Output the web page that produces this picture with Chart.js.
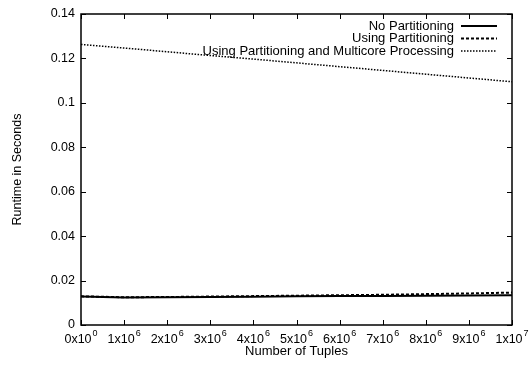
<!DOCTYPE html>
<html>
<head>
<meta charset="utf-8">
<script src="https://cdn.jsdelivr.net/npm/chart.js@4.4.1/dist/chart.umd.min.js"></script>
<style>
  html, body { margin: 0; padding: 0; background: #fff; }
  #wrap { width: 530px; height: 367px; }
</style>
</head>
<body>
<div id="wrap"><canvas id="myChart"></canvas></div>
<script>
Chart.defaults.font.family = "'Liberation Sans', 'Arial', 'Helvetica', sans-serif";
Chart.defaults.color = '#000';

var tupleCounts = [1, 1e6, 2e6, 3e6, 4e6, 5e6, 6e6, 7e6, 8e6, 9e6, 1e7];
var noPartitioning = [0.0128, 0.0124, 0.0125, 0.0126, 0.0127, 0.0129, 0.0130, 0.0131, 0.0132, 0.0133, 0.0134];
var usingPartitioning = [0.0129, 0.0125, 0.0126, 0.0128, 0.0130, 0.0132, 0.0134, 0.0136, 0.0139, 0.0142, 0.0146];
var multicoreProcessing = [0.1263, 0.1247, 0.1230, 0.1213, 0.1197, 0.1180, 0.1163, 0.1146, 0.1129, 0.1112, 0.1095];
var seriesNames = ['No Partitioning', 'Using Partitioning', 'Using Partitioning and Multicore Processing'];
// tick labels as mantissa x 10^exponent
var xTickBase = ['0x10', '1x10', '2x10', '3x10', '4x10', '5x10', '6x10', '7x10', '8x10', '9x10', '1x10'];
var xTickExp = ['0', '6', '6', '6', '6', '6', '6', '6', '6', '6', '7'];

var FONT = "'Liberation Sans', Arial, sans-serif";

function toPoints(values) {
    return values.map(function (v, i) { return { x: tupleCounts[i], y: v }; });
}

// gnuplot style: full frame, inward ticks on all sides, key at top right
var gnuplotFrame = {
    id: 'gnuplotFrame',
    afterDraw: function (chart) {
        var ctx = chart.ctx;
        var a = chart.chartArea;
        var xs = chart.scales.x, ys = chart.scales.y;
        var t = 5;
        ctx.save();
        ctx.strokeStyle = '#000';
        ctx.lineWidth = 1.5;
        ctx.strokeRect(a.left, a.top, a.right - a.left, a.bottom - a.top);
        ctx.lineWidth = 1;
        ctx.beginPath();
        xs.ticks.forEach(function (tk) {
            var px = Math.round(xs.getPixelForValue(tk.value)) + 0.5;
            ctx.moveTo(px, a.bottom); ctx.lineTo(px, a.bottom - t);
            ctx.moveTo(px, a.top); ctx.lineTo(px, a.top + t);
        });
        ys.ticks.forEach(function (tk) {
            var py = Math.round(ys.getPixelForValue(tk.value)) + 0.5;
            ctx.moveTo(a.left, py); ctx.lineTo(a.left + t, py);
            ctx.moveTo(a.right, py); ctx.lineTo(a.right - t, py);
        });
        ctx.stroke();

        // x tick labels with superscript exponent
        ctx.fillStyle = '#000';
        ctx.textBaseline = 'middle';
        ctx.textAlign = 'left';
        xs.ticks.forEach(function (tk, i) {
            var px = xs.getPixelForValue(tk.value);
            ctx.font = '12.5px ' + FONT;
            var wb = ctx.measureText(xTickBase[i]).width;
            ctx.font = '9px ' + FONT;
            var we = ctx.measureText(xTickExp[i]).width;
            var x0 = px - (wb + 1 + we) / 2;
            ctx.font = '12.5px ' + FONT;
            ctx.fillText(xTickBase[i], x0, a.bottom + 15);
            ctx.font = '9px ' + FONT;
            ctx.fillText(xTickExp[i], x0 + wb + 1, a.bottom + 9);
        });

        // key
        ctx.font = '13px ' + FONT;
        ctx.textAlign = 'right';
        chart.data.datasets.forEach(function (ds, i) {
            var y = a.top + 12 + i * 12.5;
            ctx.fillText(ds.label, a.right - 58, y);
            ctx.beginPath();
            ctx.lineWidth = ds.borderWidth;
            ctx.setLineDash(ds.borderDash || []);
            ctx.moveTo(a.right - 51, y);
            ctx.lineTo(a.right - 15, y);
            ctx.stroke();
        });
        ctx.restore();
    }
};

var ctx1 = document.getElementById('myChart').getContext('2d');
var myChart = new Chart(ctx1, {
    type: 'line',
    data: {
        datasets: [{
            label: seriesNames[0],
            data: toPoints(noPartitioning),
            borderColor: '#000',
            borderWidth: 2,
            pointRadius: 0
        }, {
            label: seriesNames[1],
            data: toPoints(usingPartitioning),
            borderColor: '#000',
            borderWidth: 2,
            borderDash: [3, 2],
            pointRadius: 0
        }, {
            label: seriesNames[2],
            data: toPoints(multicoreProcessing),
            borderColor: '#000',
            borderWidth: 1.5,
            borderDash: [1.5, 1.5],
            pointRadius: 0
        }]
    },
    plugins: [gnuplotFrame],
    options: {
        animation: false,
        responsive: true,
        maintainAspectRatio: false,
        layout: { padding: { top: 14, right: 18, left: 0, bottom: 0 } },
        plugins: {
            legend: { display: false },
            tooltip: { enabled: false }
        },
        scales: {
            x: {
                type: 'linear',
                min: 0,
                max: 1e7,
                afterFit: function (scale) { scale.height = 42; },
                ticks: {
                    stepSize: 1e6,
                    autoSkip: false,
                    display: false
                },
                grid: { display: false, drawTicks: false },
                border: { display: false },
                title: {
                    display: true,
                    text: 'Number of Tuples',
                    font: { size: 13 },
                    padding: { top: 0, bottom: 8 }
                }
            },
            y: {
                min: 0,
                max: 0.14,
                afterFit: function (scale) { scale.width = 81; },
                ticks: {
                    stepSize: 0.02,
                    padding: 6,
                    font: { size: 12.5 },
                    callback: function (value) { return String(+value.toFixed(2)); }
                },
                grid: { display: false, drawTicks: false },
                border: { display: false },
                title: {
                    display: true,
                    text: 'Runtime in Seconds',
                    font: { size: 12.5 },
                    padding: { top: 10, bottom: 0 }
                }
            }
        }
    }
});
</script>
</body>
</html>
